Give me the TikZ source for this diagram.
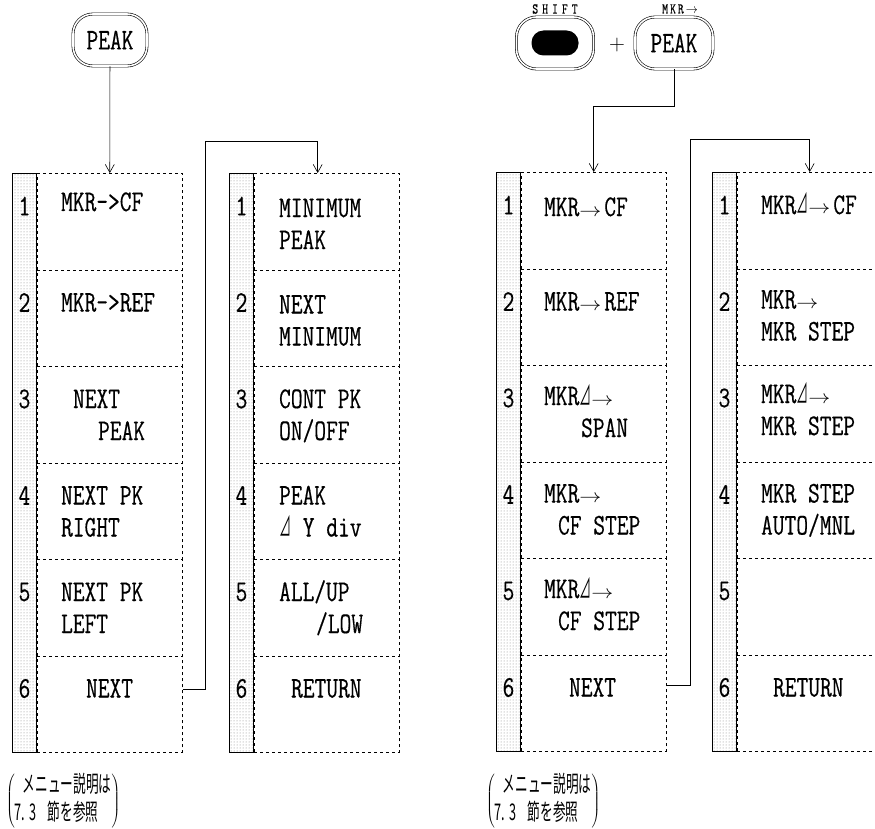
\documentclass[tikz,border=0pt]{standalone}
\usepackage{fontspec}
\usepackage{graphicx}
\newfontfamily\keyface{Latin Modern Mono}[FakeStretch=0.76, FakeBold=0.4]
\newfontfamily\jfont{Noto Sans CJK JP}[FakeStretch=0.55]
\newfontfamily\trifont{Noto Sans CJK JP}
\usetikzlibrary{arrows.meta, positioning, calc, patterns}

\newcommand{\keyfont}{\keyface\fontsize{30}{32}\selectfont}
\newcommand{\ra}{\makebox[25pt][l]{\resizebox{22pt}{7pt}{$\rightarrow$}}}
\newcommand{\dlt}{\makebox[12pt][l]{\trifont\fontsize{20}{20}\selectfont\scalebox{0.6}[1.35]{⊿}}}

\tikzset{
  strip/.style = {draw, line width=0.9pt, pattern=dots, pattern color=black!50,
                  minimum width=24pt, minimum height=579pt, inner sep=0pt},
  row/.style   = {draw, line width=0.6pt, dash pattern=on 3pt off 3pt,
                  minimum width=145pt, minimum height=96.5pt, inner sep=0pt},
  num/.style   = {font=\keyfont, inner sep=0pt},
  key/.style   = {font=\keyfont, align=left, inner sep=0pt, anchor=base west},
  btn/.style   = {draw, double, double distance=1.6pt, line width=0.6pt,
                  rounded corners=20pt, minimum width=74pt, minimum height=52pt,
                  inner sep=0pt, font=\keyfont},
  arr/.style   = {-{Straight Barb[length=8pt, width=9pt]}, line width=0.6pt},
  note/.style  = {font=\jfont\fontsize{23}{27}\selectfont, inner sep=0pt, anchor=west},
  top/.style   = {font=\keyface\fontsize{15}{15}\selectfont, inner sep=0pt},
}

% one soft-key menu: name, left x, top y
\newcommand{\menu}[3]{%
  \node[strip, anchor=north west] (#1s) at (#2,#3) {};
  \foreach \i in {1,...,6}{
    \node[row, anchor=north west] (#1r\i) at ($(#1s.north east)+(0,{(\i-1)*96.5})$) {};
    \node[num] (#1n\i) at ($(#1s.north)+(0,{(\i-1)*96.5+33})$) {\i};
  }%
}

\begin{document}
\begin{tikzpicture}[x=1pt, y=-1pt]
\useasboundingbox (0,0) rectangle (875,829);

% ============================================================
%  Left: PEAK key and its two menus
% ============================================================

\node[btn] (peakA) at (110,40) {PEAK};

\menu{m1}{12}{173}
\menu{m2}{229}{173}

% one-line labels: baseline at +42, two-line labels: last baseline at +74
\node[key] (m1t1) at ($(m1r1.north west)+(24,38)$) {MKR->CF};
\node[key] (m1t2) at ($(m1r2.north west)+(24,42)$) {MKR->REF};
\node[key] (m1t3) at ($(m1r3.north west)+(36,74)$) {NEXT\\\hspace*{25pt}PEAK};
\node[key] (m1t4) at ($(m1r4.north west)+(24,74)$) {NEXT PK\\RIGHT};
\node[key] (m1t5) at ($(m1r5.north west)+(24,74)$) {NEXT PK\\LEFT};
\node[key] (m1t6) at ($(m1r6.north west)+(49,42)$) {NEXT};

\node[key] (m2t1) at ($(m2r1.north west)+(25,76)$) {MINIMUM\\PEAK};
\node[key] (m2t2) at ($(m2r2.north west)+(25,76)$) {NEXT\\MINIMUM};
\node[key] (m2t3) at ($(m2r3.north west)+(25,74)$) {CONT PK\\ON/OFF};
\node[key] (m2t4) at ($(m2r4.north west)+(25,74)$) {PEAK\\\dlt\ Y div};
\node[key] (m2t5) at ($(m2r5.north west)+(25,74)$) {ALL/UP\\\hspace*{37pt}/LOW};
\node[key] (m2t6) at ($(m2r6.north west)+(37,42)$) {RETURN};

\draw[arr] (peakA) -- (m1r1);
\coordinate (up1) at ($(m2r1.north)+(-9,-32)$);
\draw[arr] ([yshift=15pt]m1r6.east) -- ++(23,0) |- (up1) -- (up1 |- m2r1.north);

% ============================================================
%  Right: SHIFT + PEAK and its two menus
% ============================================================

\node[btn, minimum width=77pt] (shiftA) at (555,43) {};
\node[fill, rounded corners=12pt, minimum width=47pt, minimum height=25pt,
      inner sep=0pt] (shiftK) at (shiftA) {};
\node[top] (shiftL) at (555,9) {S\hspace{4pt}H\hspace{4pt}I\hspace{4pt}F\hspace{4pt}T};
\node[font=\fontsize{22}{22}\selectfont, inner sep=0pt] (plus) at (617,45) {+};
\node[btn, minimum width=78pt] (peakB) at (674,43) {PEAK};
\node[top] (peakL) at (680,9) {M\hspace{2pt}K\hspace{2pt}R\hspace{2pt}\resizebox{12pt}{5pt}{$\rightarrow$}};

\menu{m3}{496}{172}
\menu{m4}{712}{172}

\node[key] (m3t1) at ($(m3r1.north west)+(23,44)$) {MKR\ra CF};
\node[key] (m3t2) at ($(m3r2.north west)+(23,42)$) {MKR\ra REF};
\node[key] (m3t3) at ($(m3r3.north west)+(23,72)$) {MKR\dlt\ra\\\hspace*{37pt}SPAN};
\node[key] (m3t4) at ($(m3r4.north west)+(23,73)$) {MKR\ra\\\hspace*{14pt}CF STEP};
\node[key] (m3t5) at ($(m3r5.north west)+(23,72)$) {MKR\dlt\ra\\\hspace*{14pt}CF STEP};
\node[key] (m3t6) at ($(m3r6.north west)+(48,42)$) {NEXT};

\node[key] (m4t1) at ($(m4r1.north west)+(24,42)$) {MKR\dlt\ra CF};
\node[key] (m4t2) at ($(m4r2.north west)+(24,72)$) {MKR\ra\\MKR STEP};
\node[key] (m4t3) at ($(m4r3.north west)+(24,70)$) {MKR\dlt\ra\\MKR STEP};
\node[key] (m4t4) at ($(m4r4.north west)+(24,73)$) {MKR STEP\\AUTO/MNL};
\node[key] (m4t6) at ($(m4r6.north west)+(36,42)$) {RETURN};

\draw[arr] (peakB.south) -- ++(0,37) -| (m3r1.north);
\coordinate (up2) at ($(m4r1.north)+(0,-33)$);
\draw[arr] ([yshift=18pt]m3r6.east) -- ++(24,0) |- (up2) -- (m4r1.north);

% ---- notes under the menus ----
\node[note] (noteA) at (6,801)
  {$\left(\begin{tabular}{@{}l@{}}\hspace*{8pt}メニュー説明は\\7.\,3\enspace 節を参照\end{tabular}\right)$};
\node[note] (noteB) at (486,801)
  {$\left(\begin{tabular}{@{}l@{}}\hspace*{8pt}メニュー説明は\\7.\,3\enspace 節を参照\end{tabular}\right)$};

\end{tikzpicture}
\end{document}
